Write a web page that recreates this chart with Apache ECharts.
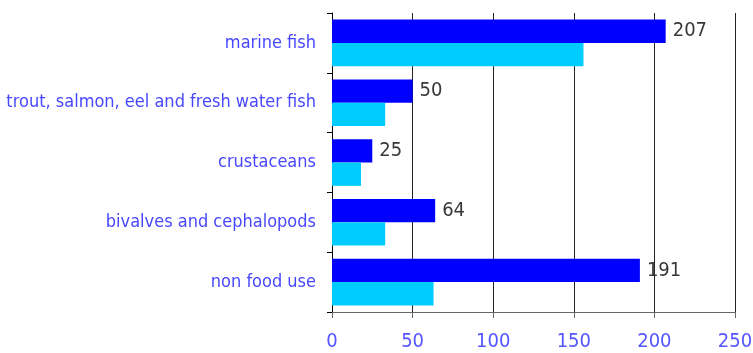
<!DOCTYPE html>
<html>
<head>
<meta charset="utf-8">
<script src="https://cdn.jsdelivr.net/npm/echarts@6/dist/echarts.min.js"></script>
<style>
html,body{margin:0;padding:0;background:#fff;}
#chart{width:753px;height:353px;}
</style>
</head>
<body>
<div id="chart"></div>
<script>
// Categories, top to bottom
const categories = [
  'marine fish',
  'trout, salmon, eel and fresh water fish',
  'crustaceans',
  'bivalves and cephalopods',
  'non food use'
];
// Dark blue series (labelled) and light blue series
const seriesA = [207, 50, 25, 64, 191];
const seriesB = [156, 33, 18, 33, 63];
const xTicks = [0, 50, 100, 150, 200, 250];

const FONT = '"DejaVu Sans Condensed", sans-serif';

const chart = echarts.init(document.getElementById('chart'), null, {renderer: 'canvas'});
chart.setOption({
  animation: false,
  backgroundColor: '#ffffff',
  grid: {left: 332, right: 18, top: 13, bottom: 41, containLabel: false, outerBoundsMode: 'none'},
  xAxis: {
    type: 'value',
    min: xTicks[0],
    max: xTicks[xTicks.length - 1],
    interval: xTicks[1] - xTicks[0],
    axisLine: {show: true, lineStyle: {color: '#666', width: 1}},
    axisTick: {show: true, length: 6, lineStyle: {color: '#666'}},
    splitLine: {show: true, lineStyle: {color: '#222', width: 1}},
    axisLabel: {color: '#5555ff', fontFamily: FONT, fontSize: 20, margin: 20}
  },
  yAxis: {
    type: 'category',
    data: categories,
    inverse: true,
    axisLine: {show: true, lineStyle: {color: '#000', width: 1}},
    axisTick: {show: true, length: 5, lineStyle: {color: '#000'}},
    axisLabel: {color: '#4848ff', fontFamily: FONT, fontSize: 18, margin: 16, padding: [3, 0, 0, 0]}
  },
  series: [
    {
      type: 'bar',
      data: seriesA,
      barGap: '0%',
      barCategoryGap: '22%',
      itemStyle: {color: '#0000ff'},
      label: {
        show: true,
        position: 'right',
        distance: 7,
        color: '#383838',
        fontFamily: FONT,
        fontSize: 20
      }
    },
    {
      type: 'bar',
      data: seriesB,
      barGap: '0%',
      barCategoryGap: '22%',
      itemStyle: {color: '#00ccff'}
    }
  ]
});
</script>
</body>
</html>
